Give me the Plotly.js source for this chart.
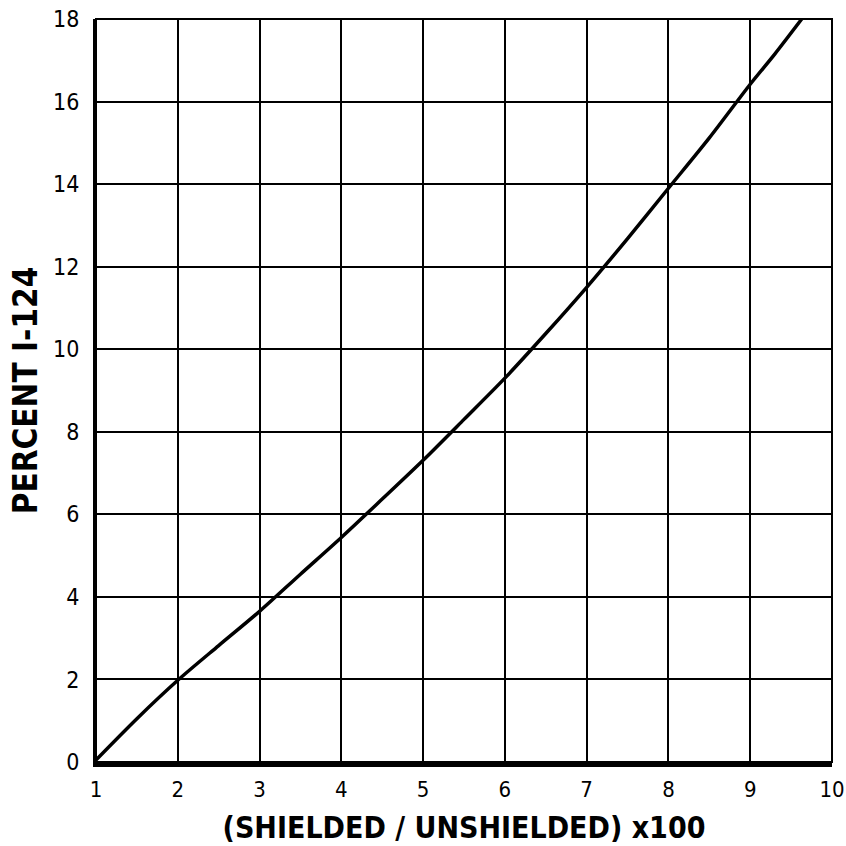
<!DOCTYPE html>
<html>
<head>
<meta charset="utf-8">
<script src="https://cdn.plot.ly/plotly-3.0.1.min.js"></script>
<style>html,body{margin:0;padding:0;background:#fff;}#chart{width:846px;height:846px;}</style>
</head>
<body>
<div id="chart"></div>
<script>
// Data
const ratioX = [1, 1.5, 2, 2.5, 3, 3.5, 4, 4.5, 5, 5.5, 6, 6.5, 7, 7.5, 8, 8.5, 9, 9.3, 9.63];
const percentI124 = [0.05, 1.05, 1.98, 2.82, 3.65, 4.55, 5.44, 6.37, 7.31, 8.3, 9.3, 10.38, 11.5, 12.68, 13.9, 15.12, 16.42, 17.15, 18];
const xTickVals = [1, 2, 3, 4, 5, 6, 7, 8, 9, 10];
const xTickText = ["1", "2", "3", "4", "5", "6", "7", "8", "9", "10"];
const yTickVals = [0, 2, 4, 6, 8, 10, 12, 14, 16, 18];
const yTickText = ["0", "2", "4", "6", "8", "10", "12", "14", "16", "18"];
const xTitle = "(SHIELDED / UNSHIELDED) x100";
const yTitle = "PERCENT I-124";

const fam = "DejaVu Sans Condensed, DejaVu Sans, sans-serif";
const xTickFont = {family: fam, size: 22, color: "#000"};
const yTickFont = {family: fam, size: 23, color: "#000"};
const xTitleFont = {family: fam, size: 30, color: "#000", weight: "bold"};
const yTitleFont = {family: fam, size: 33, color: "#000", weight: "bold"};

const trace = {
  x: ratioX,
  y: percentI124,
  type: "scatter",
  mode: "lines",
  line: {color: "#000", width: 3.5, shape: "spline", smoothing: 0.8},
  hoverinfo: "skip",
  showlegend: false
};

const layout = {
  width: 846,
  height: 846,
  margin: {l: 96, r: 14, t: 19, b: 84},
  paper_bgcolor: "#fff",
  plot_bgcolor: "#fff",
  xaxis: {
    range: [1, 10],
    tickvals: xTickVals,
    ticktext: xTickText,
    showgrid: true,
    gridcolor: "#000",
    gridwidth: 2,
    zeroline: false,
    showline: true,
    linecolor: "#000",
    linewidth: 5,
    ticks: "",
    ticklabelstandoff: 4,
    ticklabeloverflow: "allow",
    tickfont: xTickFont,
    title: {text: xTitle, font: xTitleFont, standoff: 17}
  },
  yaxis: {
    range: [0, 18],
    tickvals: yTickVals,
    ticktext: yTickText,
    showgrid: true,
    gridcolor: "#000",
    gridwidth: 2,
    zeroline: false,
    showline: true,
    linecolor: "#000",
    linewidth: 3,
    ticks: "",
    ticklabelstandoff: 9,
    ticklabeloverflow: "allow",
    tickfont: yTickFont,
    title: {text: yTitle, font: yTitleFont, standoff: 6}
  },
  shapes: [
    {type: "rect", xref: "paper", yref: "paper", x0: 0, x1: 1, y0: 0, y1: 1,
     line: {color: "#000", width: 2}, fillcolor: "rgba(0,0,0,0)", layer: "above"}
  ]
};

Plotly.newPlot("chart", [trace], layout, {staticPlot: true, displayModeBar: false});
</script>
</body>
</html>
